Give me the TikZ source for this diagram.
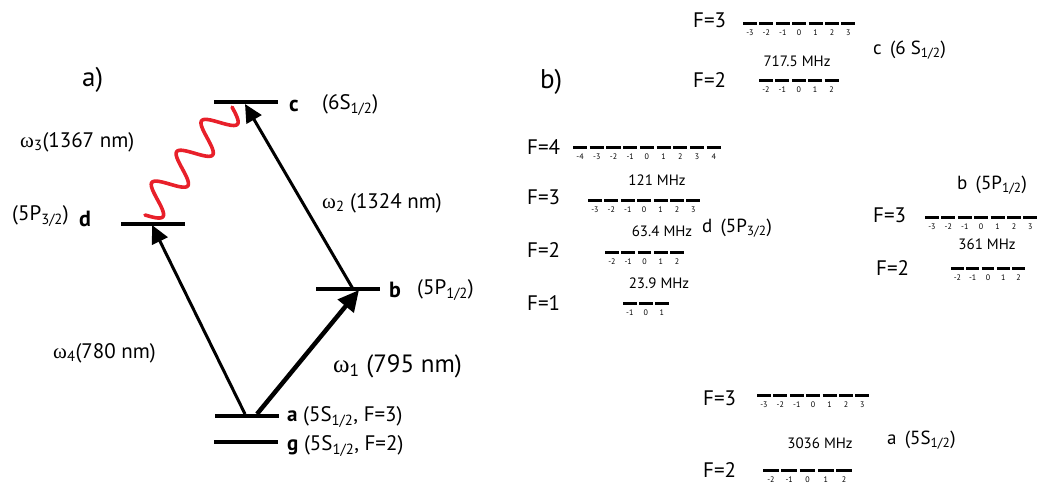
\documentclass[tikz,border=0pt]{standalone}
\usepackage{fontspec}
\setmainfont{PT Sans}
\newfontfamily\grk{Liberation Serif}
\usetikzlibrary{arrows.meta}
\newcommand\om[1]{{\grk ω}\textsubscript{#1}}
\newcommand\hfs[5]{% name, xleft, y, F, slot
  \pgfmathtruncatemacro\hfsn{2*#4}%
  \foreach \k in {0,...,\hfsn}{%
    \pgfmathtruncatemacro\hfsm{\k-#4}%
    \draw[sublev] ({#2+\k*#5},#3) -- ({#2+\k*#5+#5-2.5},#3);
    \node[mlab] (#1-\k) at ({#2+\k*#5+(#5-2.5)/2},{#3+9.5}) {\hfsm};
  }}
\begin{document}
\begin{tikzpicture}[x=1pt,y=-1pt,
  lev/.style={rectangle,fill=black,draw=none,inner sep=0pt,minimum height=3.6pt,minimum width=64pt},
  sublev/.style={line width=3pt,black},
  mlab/.style={inner sep=0pt,font=\fontsize{8}{9}\selectfont},
  lbl/.style={anchor=west,inner sep=0pt,font=\fontsize{21}{24}\selectfont},
  bl/.style={anchor=west,inner sep=0pt,font=\fontsize{22}{24}\selectfont\bfseries},
  big/.style={anchor=west,inner sep=0pt,font=\fontsize{27}{30}\selectfont},
  flab/.style={anchor=west,inner sep=0pt,font=\fontsize{21}{24}\selectfont},
  slab/.style={anchor=west,inner sep=0pt,font=\fontsize{19}{22}\selectfont},
  mhz/.style={inner sep=0pt,font=\fontsize{15}{17}\selectfont},
  arr/.style={line width=3pt,-{Triangle[length=18pt,width=17pt]}},
  wave/.style={line width=3.6pt,line cap=round,color={rgb,255:red,232;green,32;blue,42}}]
\useasboundingbox (0,0) rectangle (1047,488);
% ---------- part a ----------
\node[big] (la) at (82,80) {a)};
\node[lev] (c) at (246,102) {};
\node[lev] (d) at (152.5,224) {};
\node[lev] (b) at (347.5,289) {};
\node[lev] (a) at (247,416) {};
\node[lev] (g) at (246,442) {};
\coordinate (a4) at (245,414);
\coordinate (d4) at (152,225);
\coordinate (a1) at (257,414);
\coordinate (b1) at (359,290);
\coordinate (b2) at (353,289);
\coordinate (c2) at (245,104);
\draw[arr] (a4) -- (d4);
\draw[arr,line width=4.5pt,-{Triangle[length=21pt,width=20pt]}] (a1) -- (b1);
\draw[arr] (b2) -- (c2);
% emitted photon omega_3 (wavy line from d to c)
\draw[wave] plot[domain=0:1,samples=160,smooth]
  ({145+87*\x+15*0.78*sin(1260*\x)},{215-108*\x+15*0.63*sin(1260*\x)});
\node[bl] (cn) at (289,106) {c};
\node[lbl] (cs) at (322,105) {(6S\textsubscript{1/2})};
\node[bl] (dn) at (79,219) {d};
\node[lbl] (ds) at (12,216) {(5P\textsubscript{3/2})};
\node[bl] (bn) at (389,290) {b};
\node[lbl] (bs) at (417,290) {(5P\textsubscript{1/2})};
\node[lbl] (an) at (287,417) {\textbf{a} (5S\textsubscript{1/2}, F=3)};
\node[lbl] (gn) at (287,446) {\textbf{g} (5S\textsubscript{1/2}, F=2)};
\node[lbl] (w3) at (20,142) {\om{3}(1367 nm)};
\node[lbl] (w2) at (322,203) {\om{2} (1324 nm)};
\node[lbl] (w4) at (53,353) {\om{4}(780 nm)};
\node[lbl,font=\fontsize{25}{28}\selectfont] (w1) at (333,366) {\om{1} (795 nm)};
% ---------- part b ----------
\node[big] (lb) at (540,82) {b)};
% c (6S1/2)
\node[flab] (cF3) at (693,20) {F=3};
\hfs{cthree}{743}{23}{3}{16.4}
\node[flab] (cF2) at (693,80) {F=2};
\hfs{ctwo}{759}{80}{2}{16.4}
\node[mhz] (c717) at (797,61) {717.5 MHz};
\node[slab] (clab) at (873,50) {c\, (6 S\textsubscript{1/2})};
% d (5P3/2)
\node[flab] (dF4) at (527,147) {F=4};
\hfs{dfour}{573}{147}{4}{16.7}
\node[mhz] (d121) at (657,180) {121 MHz};
\node[flab] (dF3) at (527,197) {F=3};
\hfs{dthree}{588}{200}{3}{16.4}
\node[mhz] (d634) at (662,231) {63.4 MHz};
\node[slab] (dlab) at (702,228) {d\, (5P\textsubscript{3/2})};
\node[flab] (dF2) at (527,250) {F=2};
\hfs{dtwo}{605}{252}{2}{16.3}
\node[mhz] (d239) at (659,283) {23.9 MHz};
\node[flab] (dF1) at (527,303) {F=1};
\hfs{done}{623}{303}{1}{16}
% b (5P1/2)
\node[slab] (blab) at (957,185) {b\, (5P\textsubscript{1/2})};
\node[flab] (bF3) at (873,215) {F=3};
\hfs{bthree}{925}{217}{3}{16.4}
\node[mhz] (b361) at (987,244) {361 MHz};
\node[flab] (bF2) at (876,268) {F=2};
\hfs{btwo}{951}{268}{2}{15.3}
% a (5S1/2)
\node[flab] (aF3) at (703,398) {F=3};
\hfs{athree}{757}{395}{3}{16.4}
\node[mhz] (a3036) at (820,443) {3036 MHz};
\node[slab] (alab) at (887,440) {a\, (5S\textsubscript{1/2})};
\node[flab] (aF2) at (703,470) {F=2};
\hfs{atwo}{763}{470}{2}{18.3}
\end{tikzpicture}
\end{document}
